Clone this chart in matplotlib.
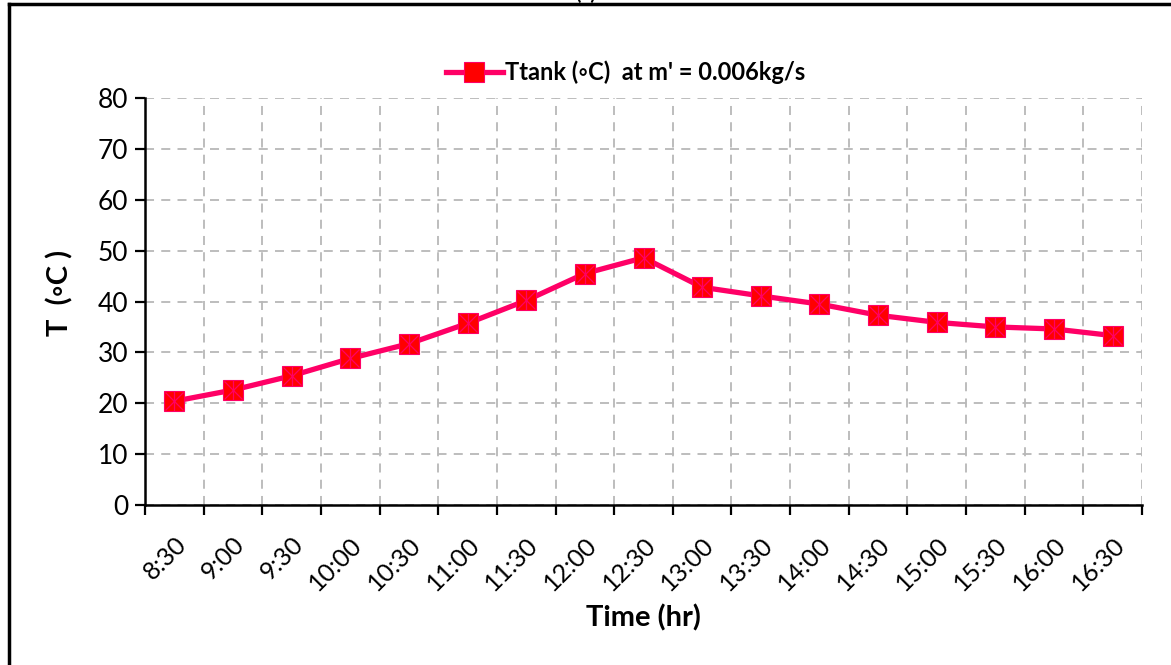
import matplotlib
matplotlib.use('Agg')
import matplotlib.pyplot as plt
import numpy as np

# collector tank temperature over the day
times = ['8:30', '9:00', '9:30', '10:00', '10:30', '11:00', '11:30', '12:00',
         '12:30', '13:00', '13:30', '14:00', '14:30', '15:00', '15:30',
         '16:00', '16:30']
t_tank = [20.4, 22.6, 25.4, 28.8, 31.7, 35.7, 40.2, 45.5,
          48.6, 42.8, 41.1, 39.5, 37.3, 35.9, 35.0, 34.6, 33.3]

plt.rcParams['font.family'] = ['Lato', 'DejaVu Sans']

line_col = '#FF0066'
face_col = '#FF0000'
grid_col = '#B8B8B8'

fig = plt.figure(figsize=(11.71, 6.65), dpi=100)
ax = fig.add_axes([145 / 1171, 1 - 505 / 665, (1142 - 145) / 1171, (505 - 98) / 665])

x = np.arange(len(times))
ax.plot(x, t_tank, color=line_col, linewidth=3.8, marker='s', markersize=15,
        markerfacecolor=face_col, markeredgecolor=line_col, markeredgewidth=0.8,
        label="Ttank (\u25e6C)  at m' = 0.006kg/s", zorder=3)
ax.plot(x, t_tank, linestyle='none', marker='x', markersize=12.5,
        markeredgecolor=line_col, markeredgewidth=0.9, zorder=4)
ax.plot(x, t_tank, linestyle='none', marker='|', markersize=14.5,
        markeredgecolor=line_col, markeredgewidth=0.9, zorder=4)

ax.set_xlim(-0.5, len(times) - 0.5)
ax.set_ylim(0, 80)
ax.set_yticks(np.arange(0, 81, 10))

# category labels centred, ticks and grid on the boundaries
ax.set_xticks(x)
ax.set_xticklabels(times, rotation=45, ha='right', va='top', rotation_mode='anchor')
ax.set_xticks(np.arange(-0.5, len(times)), minor=True)
ax.tick_params(axis='x', which='major', length=0, pad=20, labelsize=18)
ax.tick_params(axis='x', which='minor', length=7, width=1.6, direction='out')
ax.tick_params(axis='y', length=7, width=1.6, direction='out', labelsize=19, pad=5)

ax.grid(True, axis='x', which='minor', color=grid_col, linestyle=(0, (5, 4)), linewidth=1.3)
ax.grid(True, axis='y', which='major', color=grid_col, linestyle=(0, (5, 4)), linewidth=1.3)
ax.set_axisbelow(True)

for side in ['top', 'right']:
    ax.spines[side].set_visible(False)
for side in ['left', 'bottom']:
    ax.spines[side].set_linewidth(1.8)

ax.set_xlabel('Time (hr)', fontsize=21, fontweight='bold', labelpad=7)
ax.set_ylabel('T  (\u25e6C )', fontsize=21, fontweight='bold', labelpad=12)
ax.yaxis.set_label_coords(-0.072, 0.52)

leg = ax.legend(loc='lower center', bbox_to_anchor=(0.482, 1.0), frameon=False,
                prop={'size': 17, 'weight': 'bold'}, handlelength=2.4,
                handletextpad=0.1, borderaxespad=0.2)

# frame lines on the left and top of the figure
fig.add_artist(plt.Line2D([9 / 1171, 9 / 1171], [0, 1 - 4 / 665], color='black',
                          linewidth=2.5, transform=fig.transFigure))
fig.add_artist(plt.Line2D([9 / 1171, 1], [1 - 4 / 665, 1 - 4 / 665], color='black',
                          linewidth=2.5, transform=fig.transFigure))
fig.text(0.5, 1 - 3 / 665, '(a)', ha='center', va='bottom', fontsize=14, fontweight='bold')

fig.savefig('out.png', dpi=100)
